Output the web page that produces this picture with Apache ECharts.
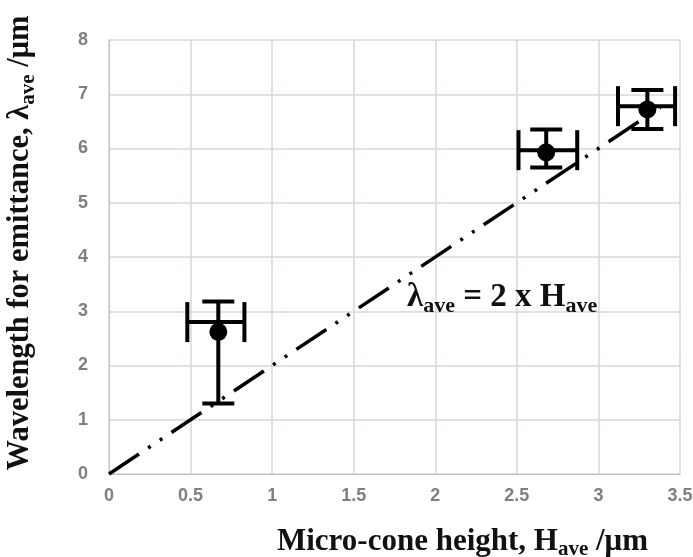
<!DOCTYPE html>
<html>
<head>
<meta charset="utf-8">
<script src="https://cdn.jsdelivr.net/npm/echarts@6/dist/echarts.min.js"></script>
<style>
html, body { margin: 0; padding: 0; background: #fff; }
#main { width: 693px; height: 557px; }
</style>
</head>
<body>
<div id="main"></div>
<script>
var xTicks = [0, 0.5, 1, 1.5, 2, 2.5, 3, 3.5];
var yTicks = [0, 1, 2, 3, 4, 5, 6, 7, 8];

// measured points: height, wavelength
var heights = [0.67, 2.68, 3.30];
var wavelengths = [2.62, 5.93, 6.72];
// error ranges
var xLow = [0.48, 2.51, 3.12];
var xHigh = [0.83, 2.87, 3.47];
var xBarLevel = [2.80, 5.97, 6.78];
var yLow = [1.30, 5.65, 6.36];
var yHigh = [3.18, 6.35, 7.08];

// fitted line lambda = 2 x H
var fitLine = [[0, 0], [3.38, 6.76]];

var myChart = echarts.init(document.getElementById('main'));

var errData = heights.map(function (h, i) {
    return [h, wavelengths[i], xLow[i], xHigh[i], xBarLevel[i], yLow[i], yHigh[i]];
});
var pts = heights.map(function (h, i) { return [h, wavelengths[i]]; });

var serif = '"Liberation Serif", "DejaVu Serif", serif';

var option = {
    animation: false,
    grid: { left: 109, right: 13, top: 40, bottom: 83, outerBoundsMode: 'none', containLabel: false },
    xAxis: {
        type: 'value',
        min: 0, max: 3.5, interval: 0.5,
        name: 'Micro-cone height, H{sub|ave} /\u03bcm',
        nameLocation: 'middle',
        nameGap: 49,
        nameTextStyle: {
            fontFamily: serif, fontWeight: 'bold', fontSize: 31, color: '#111',
            padding: [0, 0, 0, 136],
            rich: { sub: { fontFamily: serif, fontWeight: 'bold', fontSize: 21, color: '#111', padding: [16, 0, 0, 0] } }
        },
        axisLine: { lineStyle: { color: '#bfbfbf', width: 1 } },
        axisTick: { show: false },
        splitLine: { show: true, lineStyle: { color: '#dcd6d6', width: 1.5 } },
        axisLabel: {
            margin: 13, color: '#7f7f7f', fontFamily: 'Liberation Sans, Arial', fontWeight: 'bold', fontSize: 18,
            formatter: function (v) { return xTicks.indexOf(v) >= 0 ? String(v) : ''; }
        }
    },
    yAxis: {
        type: 'value',
        min: 0, max: 8, interval: 1,
        name: 'Wavelength for emittance, \u03bb{sub|ave} /\u03bcm',
        nameLocation: 'middle',
        nameGap: 70,
        nameTextStyle: {
            fontFamily: serif, fontWeight: 'bold', fontSize: 30.5, color: '#111',
            padding: [0, 0, 0, 28],
            rich: { sub: { fontFamily: serif, fontWeight: 'bold', fontSize: 21, color: '#111', padding: [16, 0, 0, 0] } }
        },
        axisLine: { show: true, lineStyle: { color: '#bfbfbf', width: 1 } },
        axisTick: { show: false },
        splitLine: { show: true, lineStyle: { color: '#dcd6d6', width: 1.5 } },
        axisLabel: {
            margin: 21, color: '#7f7f7f', fontFamily: 'Liberation Sans, Arial', fontWeight: 'bold', fontSize: 18,
            formatter: function (v) { return yTicks.indexOf(v) >= 0 ? String(v) : ''; }
        }
    },
    series: [
        {
            type: 'line',
            data: fitLine,
            symbol: 'none',
            lineStyle: { color: '#000', width: 3.5, type: [36, 11, 3, 11, 3, 11] },
            z: 2,
            markPoint: {
                symbolSize: 0,
                data: [{ coord: [2.41, 3.25] }],
                label: {
                    show: true,
                    formatter: '\u03bb{sub|ave} = 2 x H{sub|ave}',
                    fontFamily: serif, fontWeight: 'bold', fontSize: 33, color: '#111',
                    rich: { sub: { fontFamily: serif, fontWeight: 'bold', fontSize: 22, color: '#111', padding: [17, 0, 0, 0] } }
                }
            }
        },
        {
            type: 'custom',
            data: errData,
            z: 3,
            renderItem: function (params, api) {
                var x = api.value(0);
                var xl = api.value(2), xh = api.value(3), xb = api.value(4);
                var yl = api.value(5), yh = api.value(6);
                var pTop = api.coord([x, yh]);
                var pBot = api.coord([x, yl]);
                var pL = api.coord([xl, xb]);
                var pR = api.coord([xh, xb]);
                var cap = 16, capH = 20;
                var st = { stroke: '#000', lineWidth: 4 };
                return {
                    type: 'group',
                    children: [
                        { type: 'line', shape: { x1: pTop[0], y1: pTop[1], x2: pBot[0], y2: pBot[1] }, style: st },
                        { type: 'line', shape: { x1: pTop[0] - cap, y1: pTop[1], x2: pTop[0] + cap, y2: pTop[1] }, style: st },
                        { type: 'line', shape: { x1: pBot[0] - cap, y1: pBot[1], x2: pBot[0] + cap, y2: pBot[1] }, style: st },
                        { type: 'line', shape: { x1: pL[0], y1: pL[1], x2: pR[0], y2: pR[1] }, style: st },
                        { type: 'line', shape: { x1: pL[0], y1: pL[1] - capH, x2: pL[0], y2: pL[1] + capH }, style: st },
                        { type: 'line', shape: { x1: pR[0], y1: pR[1] - capH, x2: pR[0], y2: pR[1] + capH }, style: st }
                    ]
                };
            }
        },
        {
            type: 'scatter',
            data: pts,
            symbol: 'circle',
            symbolSize: 18,
            itemStyle: { color: '#000', opacity: 1 },
            z: 4
        }
    ]
};
myChart.setOption(option);
</script>
</body>
</html>
